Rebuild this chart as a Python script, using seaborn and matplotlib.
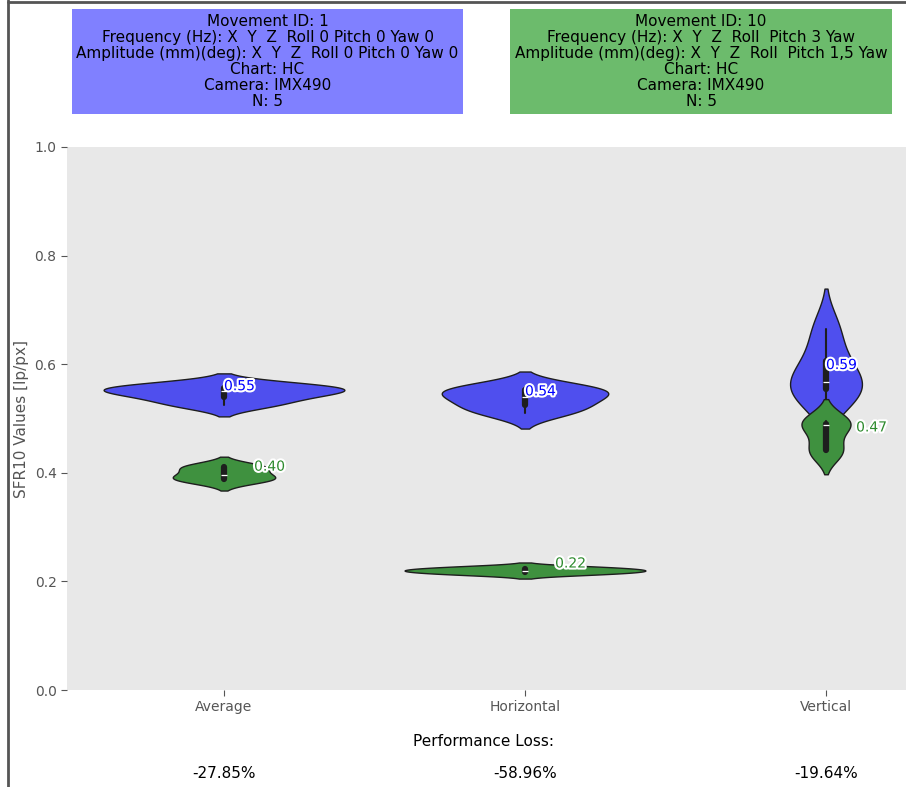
import numpy as np
import pandas as pd
import matplotlib
matplotlib.use("Agg")
import matplotlib.pyplot as plt
import matplotlib.patheffects as pe
from matplotlib import transforms
from matplotlib.lines import Line2D
import seaborn as sns

# ---------------- data ----------------
categories = ["Average", "Horizontal", "Vertical"]

# Movement ID 1 (reference, blue)
ref_average = [0.525, 0.540, 0.550, 0.556, 0.562]
ref_horizontal = [0.510, 0.525, 0.540, 0.552, 0.558]
ref_vertical = [0.535, 0.555, 0.568, 0.605, 0.665]

# Movement ID 10 (green)
mov_average = [0.385, 0.389, 0.396, 0.410, 0.412]
mov_horizontal = [0.213, 0.217, 0.220, 0.223, 0.227]
mov_vertical = [0.438, 0.442, 0.488, 0.490, 0.495]

perf_loss = [-27.85, -58.96, -19.64]

info_ref = ["Movement ID: 1",
            "Frequency (Hz): X  Y  Z  Roll 0 Pitch 0 Yaw 0",
            "Amplitude (mm)(deg): X  Y  Z  Roll 0 Pitch 0 Yaw 0",
            "Chart: HC", "Camera: IMX490", "N: 5"]
info_mov = ["Movement ID: 10",
            "Frequency (Hz): X  Y  Z  Roll  Pitch 3 Yaw",
            "Amplitude (mm)(deg): X  Y  Z  Roll  Pitch 1,5 Yaw",
            "Chart: HC", "Camera: IMX490", "N: 5"]

# ---------------- style ----------------
sns.set_style("white", {"axes.facecolor": "#e8e8e8"})
plt.rcParams["font.family"] = ["DejaVu Sans"]

blue_face = "#4f4fee"
green_face = "#3f913f"
edge = "#1e1e1e"
blue_box = "#8080ff"
green_box = "#6cbb6c"

W, H = 906, 787
fig = plt.figure(figsize=(W / 100, H / 100), dpi=100)
ax = fig.add_axes([67 / W, (H - 690) / H, 1 - 67 / W, 543 / H])

df_ref = pd.DataFrame({"metric": np.repeat(categories, len(ref_average)),
                       "value": np.concatenate([ref_average, ref_horizontal, ref_vertical])})
df_mov = pd.DataFrame({"metric": np.repeat(categories, len(mov_average)),
                       "value": np.concatenate([mov_average, mov_horizontal, mov_vertical])})

common = dict(x="metric", y="value", order=categories, inner="box",
              density_norm="area", width=0.8, linewidth=1, linecolor=edge,
              saturation=1, ax=ax)
sns.violinplot(data=df_ref, color=blue_face, **common)
sns.violinplot(data=df_mov, color=green_face, **common)

# mean labels
for i, cat in enumerate(categories):
    m1 = df_ref.loc[df_ref.metric == cat, "value"].mean()
    m2 = df_mov.loc[df_mov.metric == cat, "value"].mean()
    ax.text(i, m1, f"{m1:.2f}", color="blue", fontsize=10, ha="left", va="bottom",
            path_effects=[pe.withStroke(linewidth=3, foreground="white")], zorder=10)
    ax.text(i + 0.1, m2, f"{m2:.2f}", color="#2e8b2e", fontsize=10, ha="left", va="bottom",
            path_effects=[pe.withStroke(linewidth=3, foreground="white")], zorder=10)

ax.set_xlim(-157 / 301, (W - 224) / 301)
ax.set_ylim(0, 1.0)
ax.set_yticks(np.arange(0, 1.01, 0.2))
ax.set_yticklabels([f"{v:.1f}" for v in np.arange(0, 1.01, 0.2)])
ax.set_xlabel("")
ax.set_ylabel("SFR10 Values [lp/px]", color="#555555", fontsize=11)
for s in ax.spines.values():
    s.set_visible(False)
ax.tick_params(axis="both", colors="#555555", labelsize=10, length=4, width=0.8,
               direction="out", bottom=True, left=True)

# performance loss
fig.text(484 / W, 1 - 742 / H, "Performance Loss:", ha="center", va="center",
         fontsize=11, color="black")
tr = transforms.blended_transform_factory(ax.transData, fig.transFigure)
for i, p in enumerate(perf_loss):
    ax.text(i, 1 - 773 / H, f"{p:.2f}%", transform=tr, ha="center", va="center",
            fontsize=11, color="black")

# info boxes
fig.text(267.5 / W, 1 - 61.5 / H, "\n".join(info_ref), ha="center", va="center",
         fontsize=11, color="black", linespacing=1.1,
         bbox=dict(boxstyle="square,pad=0.3", fc=blue_box, ec="none"))
fig.text(701 / W, 1 - 61.5 / H, "\n".join(info_mov), ha="center", va="center",
         fontsize=11, color="black", linespacing=1.1,
         bbox=dict(boxstyle="square,pad=0.3", fc=green_box, ec="none"))

# screenshot frame
fig.add_artist(Line2D([8 / W, 8 / W], [0, 1], transform=fig.transFigure,
                      color="#555555", lw=2))
fig.add_artist(Line2D([8 / W, 1], [1 - 1.5 / H, 1 - 1.5 / H], transform=fig.transFigure,
                      color="#555555", lw=2))

fig.savefig("out.png", dpi=100)
